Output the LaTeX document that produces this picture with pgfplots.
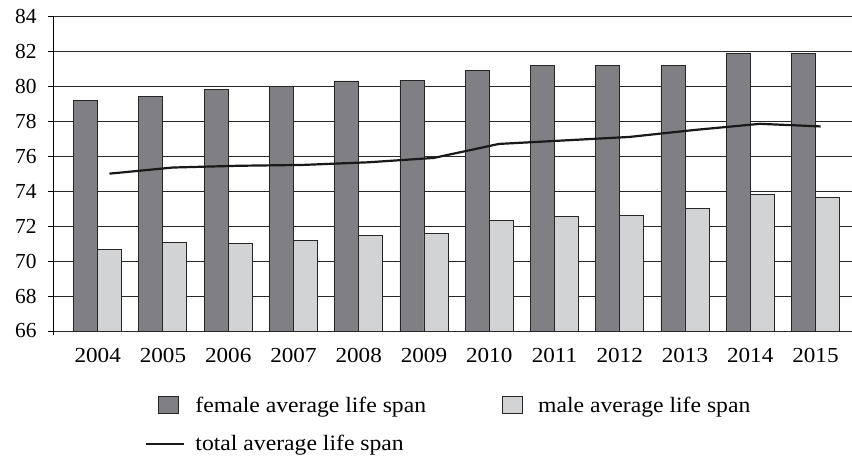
\documentclass[border=0pt]{standalone}
\usepackage{pgfplots}
\pgfplotsset{compat=1.18}
\usepackage{fontspec}
\setmainfont{Liberation Serif}
\newfontfamily\legfont[FakeStretch=1.08]{Liberation Serif}
\definecolor{fem}{RGB}{128,128,132}
\definecolor{mal}{RGB}{210,211,213}
\definecolor{gridc}{RGB}{40,40,40}
\begin{document}
\begin{tikzpicture}
\useasboundingbox (-53bp,-126bp) rectangle (799bp,331bp);
\begin{axis}[
  scale only axis,
  width=799bp, height=314.7bp,
  xmin=-0.685, xmax=11.56,
  ymin=66, ymax=84,
  ytick={66,68,...,84},
  xtick={0,...,11},
  xticklabels={2004,2005,2006,2007,2008,2009,2010,2011,2012,2013,2014,2015},
  axis x line*=bottom,
  axis y line*=left,
  x axis line style={draw=none},
  y axis line style={line width=0.9bp, black, shorten <=-4bp},
  major x tick style={draw=none},
  ytick style={line width=0.9bp, black},
  tick align=outside,
  major tick length=5bp,
  ymajorgrids,
  grid style={line width=1bp, gridc},
  /pgf/number format/assume math mode=true,
  yticklabel style={font=\fontsize{21.5}{24}\selectfont, xshift=-8bp},
  xticklabel style={font=\legfont\fontsize{21.5}{24}\selectfont, yshift=-9bp},
  ybar,
  bar width=24bp,
  clip=false,
  legend columns=2,
  legend style={draw=none, fill=none, at={(0.1115,-0.196)}, anchor=north west,
    font=\legfont\fontsize{22}{24}\selectfont,
    /tikz/every even column/.append style={column sep=62bp},
    row sep=17.5bp},
  legend cell align=left,
]
\addplot[draw=black!85, line width=0.9bp, fill=fem, bar shift=-12bp,
  legend image code/.code={\path[draw=none,fill=none] (0bp,0bp) -- (38bp,0bp);\draw[draw=black!85, line width=0.9bp, fill=fem] (12bp,-8.5bp) rectangle (32bp,8.5bp);}]
 coordinates {(0,79.2) (1,79.4) (2,79.8) (3,80.0) (4,80.3) (5,80.35) (6,80.9) (7,81.2) (8,81.2) (9,81.2) (10,81.85) (11,81.85)};
\addlegendentry{\hspace{8bp}female average life span}
\addplot[draw=black!85, line width=0.9bp, fill=mal, bar shift=12bp,
  legend image code/.code={\path[draw=none,fill=none] (0bp,0bp) -- (38bp,0bp);\draw[draw=black!85, line width=0.9bp, fill=mal] (12bp,-8.5bp) rectangle (32bp,8.5bp);}]
 coordinates {(0,70.65) (1,71.05) (2,71.0) (3,71.2) (4,71.45) (5,71.6) (6,72.3) (7,72.55) (8,72.6) (9,73.0) (10,73.8) (11,73.65)};
\addlegendentry{\hspace{8bp}male average life span}
\addplot[sharp plot, black!90, line width=2.2bp, bar shift=0pt,
  legend image code/.code={\draw[black!90, line width=2.2bp] (0bp,0bp) -- (38bp,0bp);}]
 coordinates {(0.18,75.0) (1.15,75.35) (2.15,75.45) (3.15,75.5) (4.15,75.65) (5.15,75.9) (6.15,76.7) (7.15,76.9) (8.15,77.1) (9.15,77.5) (10.15,77.85) (11.08,77.7)};
\addlegendentry{\hspace{8bp}total average life span}
\end{axis}
\end{tikzpicture}
\end{document}
